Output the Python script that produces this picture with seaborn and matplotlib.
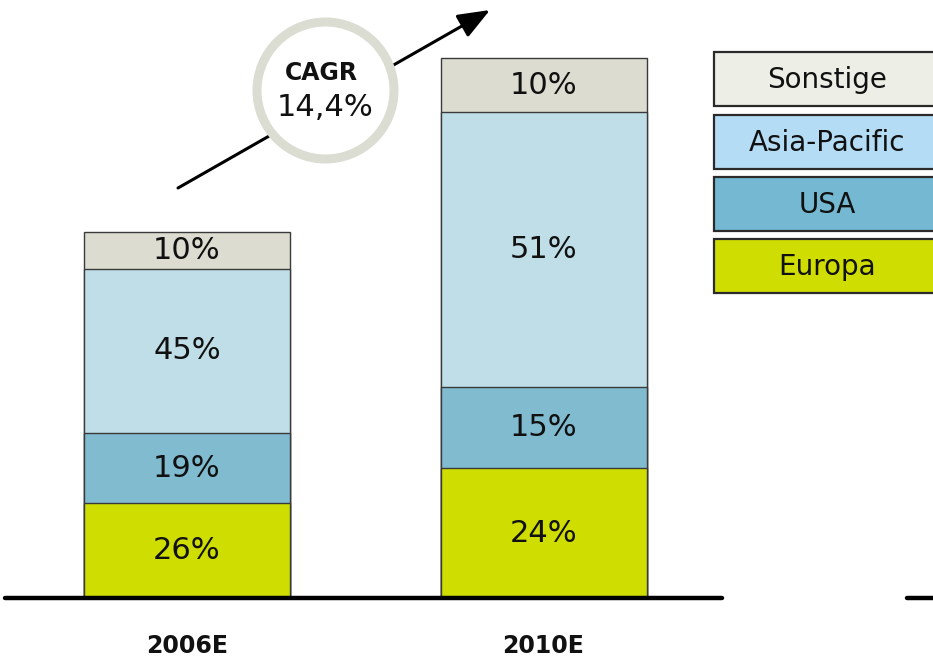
import matplotlib
matplotlib.use("Agg")
import matplotlib.pyplot as plt
import matplotlib.transforms as mtransforms
from matplotlib.patches import Rectangle, Circle, FancyArrowPatch
import seaborn as sns
import pandas as pd
import numpy as np

# ---- data ----
years = ["2006E", "2010E"]
totals = [100.0, 147.5]          # relative market size (2006E = 100)
regions = ["Europa", "USA", "Asia-Pacific", "Sonstige"]
share_europa = [26, 24]
share_usa = [19, 15]
share_asia = [45, 51]
share_sonstige = [10, 10]
cagr_text = "14,4%"

bar_colors = {"Europa": "#cfdd00", "USA": "#80bbd0",
              "Asia-Pacific": "#c0dee7", "Sonstige": "#dcddd0"}
legend_colors = {"Europa": "#cfdd00", "USA": "#74b8d2",
                 "Asia-Pacific": "#b4dcf5", "Sonstige": "#edeee6"}

shares = {"Europa": share_europa, "USA": share_usa,
          "Asia-Pacific": share_asia, "Sonstige": share_sonstige}

rows = []
for i, y in enumerate(years):
    cum = 0.0
    for r in regions:
        v = totals[i] * shares[r][i] / 100.0
        rows.append({"year": y, "region": r, "value": v,
                     "bottom": cum, "top": cum + v, "pct": shares[r][i]})
        cum += v
df = pd.DataFrame(rows)

W, H = 933, 660
sns.set_style("white")
plt.rcParams["font.family"] = ["DejaVu Sans"]
fig = plt.figure(figsize=(W / 100, H / 100), dpi=100)
ax = fig.add_axes([0, 0, 1, 1])

ppu_x = 356.5
ppu_y = 3.66
base_px = 598

# stacked bars: draw cumulative tops from the highest layer down
for r in reversed(regions):
    sub = df[df.region == r]
    sns.barplot(x=sub["year"], y=sub["top"], order=years, color=bar_colors[r],
                saturation=1, width=206 / ppu_x, edgecolor="#3a3a3a",
                linewidth=1.0, ax=ax, errorbar=None)

# pixel scale mapping (after seaborn sets its categorical limits)
ax.set_xlim(-187 / ppu_x, -187 / ppu_x + W / ppu_x)
ax.set_ylim(-(H - base_px) / ppu_y, base_px / ppu_y)
ax.set_axis_off()

# segment labels
for _, row in df.iterrows():
    xi = years.index(row["year"])
    ax.text(xi, (row["bottom"] + row["top"]) / 2, f"{row['pct']}%",
            ha="center", va="center", fontsize=22, color="#111111")

def fp(x, y):
    return (x / W, 1 - y / H)

# baseline
ax.add_line(plt.Line2D([5 / W, 722 / W], [1 - base_px / H] * 2, transform=fig.transFigure,
                       color="black", lw=3.2, solid_capstyle="round"))
ax.add_line(plt.Line2D([907 / W, 940 / W], [1 - base_px / H] * 2, transform=fig.transFigure,
                       color="black", lw=3.2, solid_capstyle="round"))

# x labels
trans = mtransforms.blended_transform_factory(ax.transData, fig.transFigure)
for i, y in enumerate(years):
    ax.text(i, 1 - 646 / H, y, transform=trans, ha="center", va="center",
            fontsize=17, fontweight="bold", color="#111111")

# CAGR arrow
arrow = FancyArrowPatch(fp(178, 188), fp(490, 10), transform=fig.transFigure,
                        arrowstyle="-|>,head_length=1.4,head_width=0.55",
                        mutation_scale=14, color="black", lw=2.2,
                        shrinkA=0, shrinkB=0)
fig.patches.append(arrow)
circ = Circle((325.5, H - 90.5), 68.5, transform=mtransforms.IdentityTransform(),
              facecolor="white", edgecolor="#dcddd2", lw=6.5)
fig.patches.append(circ)
fig.text(*fp(321, 73), "CAGR", ha="center", va="center", fontsize=17,
         fontweight="bold", color="#111111")
fig.text(*fp(325, 108), cagr_text, ha="center", va="center", fontsize=22,
         color="#111111")

# legend boxes
leg_tops = {"Sonstige": 52, "Asia-Pacific": 115, "USA": 177, "Europa": 239}
for r in regions:
    t = leg_tops[r]
    rect = Rectangle((714, H - t - 54), 240, 54, transform=mtransforms.IdentityTransform(),
                     facecolor=legend_colors[r], edgecolor="#2a2a2a", lw=1.6)
    fig.patches.append(rect)
    fig.text(*fp(827, t + 28), r, ha="center", va="center", fontsize=20,
             color="#111111")

fig.savefig("out.png", dpi=100)
